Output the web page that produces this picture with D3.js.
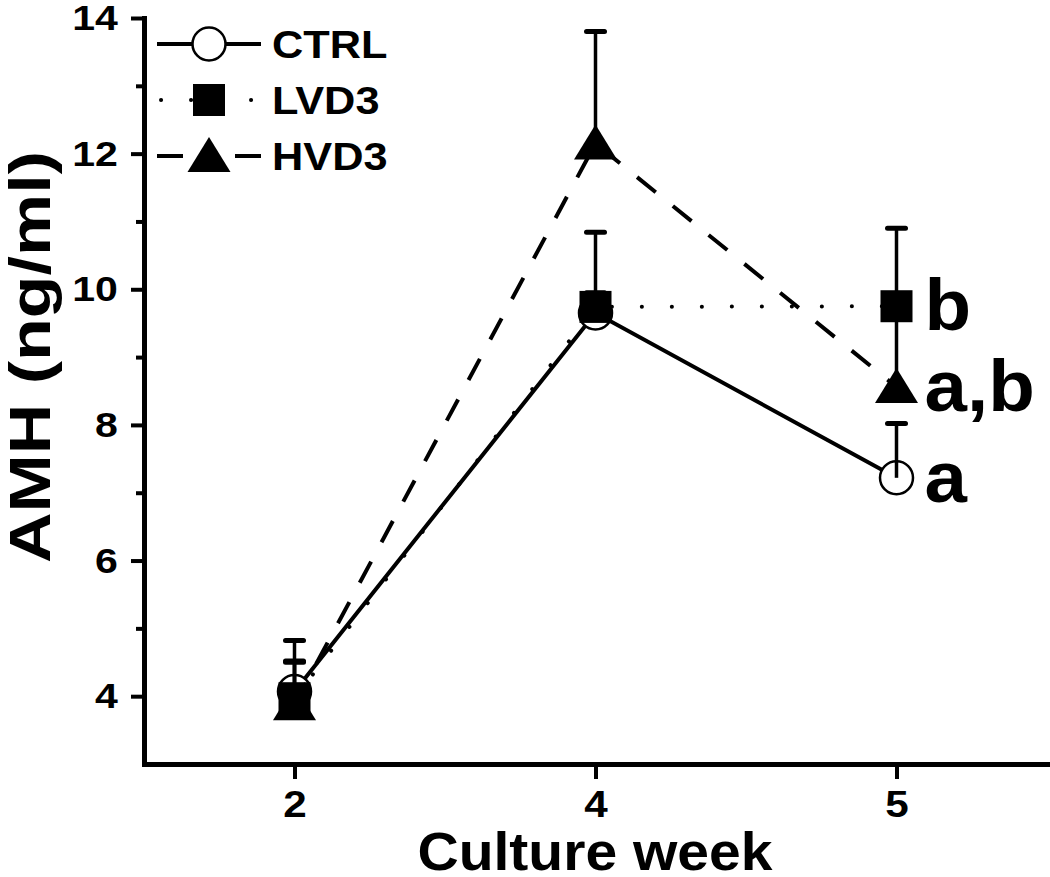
<!DOCTYPE html>
<html>
<head>
<meta charset="utf-8">
<script src="https://cdn.jsdelivr.net/npm/d3@7"></script>
<style>
  body { margin: 0; background: #fff; }
  text { font-family: "Liberation Sans", Arial, sans-serif; font-weight: bold; fill: #000; }
</style>
</head>
<body>
<script>
// data
const weeks = ["2", "4", "5"];
const ctrl = [4.07, 9.65, 7.22];
const ctrlErr = [0.75, 0.3, 0.8];
const lvd3 = [3.97, 9.74, 9.75];
const lvd3Err = [0.55, 1.1, 1.15];
const hvd3 = [3.88, 12.15, 8.56];
const hvd3Err = [0.62, 1.65, 1.2];
const letters = [["b", 9.75], ["a,b", 8.56], ["a", 7.22]];
const yTicks = [4, 6, 8, 10, 12, 14];
const yMinor = [5, 7, 9, 11, 13];

const W = 1050, H = 877;
const stretch = 1.14; // the source lettering is a bit wide
const svg = d3.select("body").append("svg")
    .attr("width", W)
    .attr("height", H);

const x = d3.scalePoint().domain(weeks).range([144, 1047]).padding(0.5);
const y = d3.scaleLinear().domain([3, 14]).range([764, 18]);

const series = [
  {name: "CTRL", values: ctrl, err: ctrlErr, symbol: "circle", dash: null},
  {name: "LVD3", values: lvd3, err: lvd3Err, symbol: "square", dash: "0.1,29.9"},
  {name: "HVD3", values: hvd3, err: hvd3Err, symbol: "triangle", dash: "24,22"}
];

function drawSymbol(g, kind, cx, cy) {
  if (kind === "circle") {
    g.append("circle").attr("cx", cx).attr("cy", cy).attr("r", 16.5)
      .attr("fill", "#fff").attr("stroke", "#000").attr("stroke-width", 2.5);
  } else if (kind === "square") {
    g.append("rect").attr("x", cx - 16).attr("y", cy - 16).attr("width", 32).attr("height", 32)
      .attr("fill", "#000");
  } else {
    g.append("path").attr("d", `M${cx},${cy - 19}L${cx + 21.5},${cy + 16}L${cx - 21.5},${cy + 16}Z`)
      .attr("fill", "#000");
  }
}

// axes
const yAxis = svg.append("g")
    .attr("transform", "translate(144,0)")
    .call(d3.axisLeft(y).tickValues(yTicks).tickSize(13).tickSizeOuter(0).tickPadding(10));
svg.append("g")
    .attr("transform", "translate(144,0)")
    .call(d3.axisLeft(y).tickValues(yMinor).tickSize(8).tickFormat(""))
    .select(".domain").remove();
const xAxis = svg.append("g")
    .attr("transform", "translate(0,764)")
    .call(d3.axisBottom(x).tickSize(15).tickSizeOuter(0).tickPadding(12));

svg.selectAll(".domain").attr("stroke-width", 5).attr("stroke-linecap", "square");
svg.selectAll(".tick line").attr("stroke-width", 4);
yAxis.selectAll("text").style("font-size", "36px").attr("transform", `scale(${stretch},1)`);
xAxis.selectAll("text").style("font-size", "37px").attr("transform", `scale(${stretch},1)`);

// axis titles
svg.append("text")
    .attr("x", 595)
    .attr("y", 870)
    .attr("text-anchor", "middle")
    .attr("textLength", 355)
    .attr("lengthAdjust", "spacingAndGlyphs")
    .style("font-size", "54px")
    .text("Culture week");
svg.append("text")
    .attr("transform", "translate(50,357) rotate(-90)")
    .attr("text-anchor", "middle")
    .attr("textLength", 412)
    .attr("lengthAdjust", "spacingAndGlyphs")
    .style("font-size", "58px")
    .text("AMH (ng/ml)");

// series
const line = d3.line().x((d, i) => x(weeks[i])).y(d => y(d));
series.forEach(s => {
  const g = svg.append("g");
  g.append("path")
    .attr("d", line(s.values))
    .attr("fill", "none")
    .attr("stroke", "#000")
    .attr("stroke-width", 4)
    .attr("stroke-linecap", s.symbol === "square" ? "round" : "butt")
    .attr("stroke-dasharray", s.dash);
  s.values.forEach((v, i) => drawSymbol(g, s.symbol, x(weeks[i]), y(v)));
  s.values.forEach((v, i) => {
    const cx = x(weeks[i]);
    g.append("line").attr("x1", cx).attr("x2", cx)
      .attr("y1", y(v)).attr("y2", y(v + s.err[i]))
      .attr("stroke", "#000").attr("stroke-width", 3.5);
    g.append("line").attr("x1", cx - 9).attr("x2", cx + 9)
      .attr("y1", y(v + s.err[i])).attr("y2", y(v + s.err[i]))
      .attr("stroke", "#000").attr("stroke-width", 5).attr("stroke-linecap", "round");
  });
});

// significance letters at week 5
svg.selectAll(".sig")
  .data(letters)
  .enter().append("text")
    .attr("class", "sig")
    .attr("transform", d => `translate(${x("5") + 28},${y(d[1]) + 24}) scale(1.06,1)`)
    .style("font-size", "72px")
    .text(d => d[0]);

// legend
const legend = svg.append("g");
series.forEach((s, i) => {
  const ly = 44 + i * 56;
  legend.append("line")
    .attr("x1", 157).attr("x2", 261).attr("y1", ly).attr("y2", ly)
    .attr("stroke", "#000").attr("stroke-width", 4)
    .attr("stroke-linecap", s.symbol === "square" ? "round" : "butt")
    .attr("stroke-dasharray", s.dash ? (s.symbol === "square" ? "0.1,29.9" : "26,52") : null)
    .attr("stroke-dashoffset", s.symbol === "square" ? -4 : 0);
  drawSymbol(legend, s.symbol, 209, ly);
  legend.append("text")
    .attr("transform", `translate(272,${ly + 14}) scale(${stretch},1)`)
    .style("font-size", "38px")
    .text(s.name);
});
</script>
</body>
</html>
